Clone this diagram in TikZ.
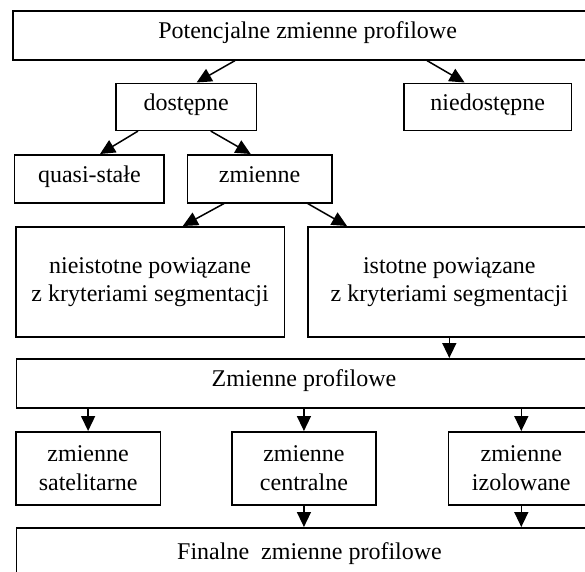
\documentclass[tikz,border=0pt]{standalone}
\usepackage{fontspec}
\setmainfont{Liberation Serif}
\usetikzlibrary{arrows.meta}
\tikzset{
  box/.style={draw, line width=1.6pt, rectangle, inner sep=0pt, anchor=north west, fill=white},
  oneline/.style={text height=0.89em, text depth=0.22em},
  twoline/.style={align=center},
  arr/.style={line width=1.5pt, -{Triangle[length=15pt,width=14pt]}}
}
\begin{document}
\begin{tikzpicture}[x=1pt,y=-1pt,font=\fontsize{24}{28.3}\selectfont]
\useasboundingbox (0,0) rectangle (585,571);
\clip (0,0) rectangle (585,571);
\fill[white] (0,0) rectangle (585,571);

\node[box,oneline,minimum width=589pt,minimum height=49pt] (T) at (12.3,10) {Potencjalne zmienne profilowe};
\node[box,oneline,minimum width=140.8pt,minimum height=47pt] (dost) at (115,82.5) {dostępne};
\node[box,oneline,minimum width=167.4pt,minimum height=47pt] (niedost) at (403.3,82.5) {niedostępne};
\node[box,oneline,minimum width=149.6pt,minimum height=48pt] (quasi) at (13.8,154) {quasi-stałe};
\node[box,oneline,minimum width=144.4pt,minimum height=48pt] (zm) at (186.6,154) {zmienne};
\node[box,twoline,minimum width=268.7pt,minimum height=110pt] (nieist) at (14.9,226) {nieistotne powiązane\\z kryteriami segmentacji};
\node[box,twoline,minimum width=283pt,minimum height=110pt] (ist) at (307,226) {istotne powiązane\\z kryteriami segmentacji};
\node[box,oneline,minimum width=575pt,minimum height=49pt] (ZP) at (15.7,358) {Zmienne profilowe};
\node[box,twoline,minimum width=144.8pt,minimum height=73pt] (sat) at (14.9,431) {zmienne\\satelitarne};
\node[box,twoline,minimum width=143.7pt,minimum height=73pt] (cen) at (231.3,431) {zmienne\\centralne};
\node[box,twoline,minimum width=145.4pt,minimum height=73pt] (izo) at (447.8,431) {zmienne\\izolowane};
\node[box,oneline,minimum width=586pt,minimum height=56pt] (Fin) at (15.7,527) {Finalne\ \ zmienne profilowe};

\draw[arr] ([xshift=222.7pt]T.south west) -- ([xshift=81.6pt]dost.north west);
\draw[arr] ([xshift=414.7pt]T.south west) -- ([xshift=61.3pt]niedost.north west);
\draw[arr] ([xshift=23pt]dost.south west) -- ([xshift=86.2pt]quasi.north west);
\draw[arr] ([xshift=95.8pt]dost.south west) -- ([xshift=64.1pt]zm.north west);
\draw[arr] ([xshift=37.3pt]zm.south west) -- ([xshift=167.9pt]nieist.north west);
\draw[arr] ([xshift=121.2pt]zm.south west) -- ([xshift=40pt]ist.north west);
\draw[arr] (ist.south) -- (ist.south |- ZP.north);
\draw[arr] (sat.north |- ZP.south) -- (sat.north);
\draw[arr] (cen.north |- ZP.south) -- (cen.north);
\draw[arr] (izo.north |- ZP.south) -- (izo.north);
\draw[arr] (cen.south) -- (cen.south |- Fin.north);
\draw[arr] (izo.south) -- (izo.south |- Fin.north);
\end{tikzpicture}
\end{document}
